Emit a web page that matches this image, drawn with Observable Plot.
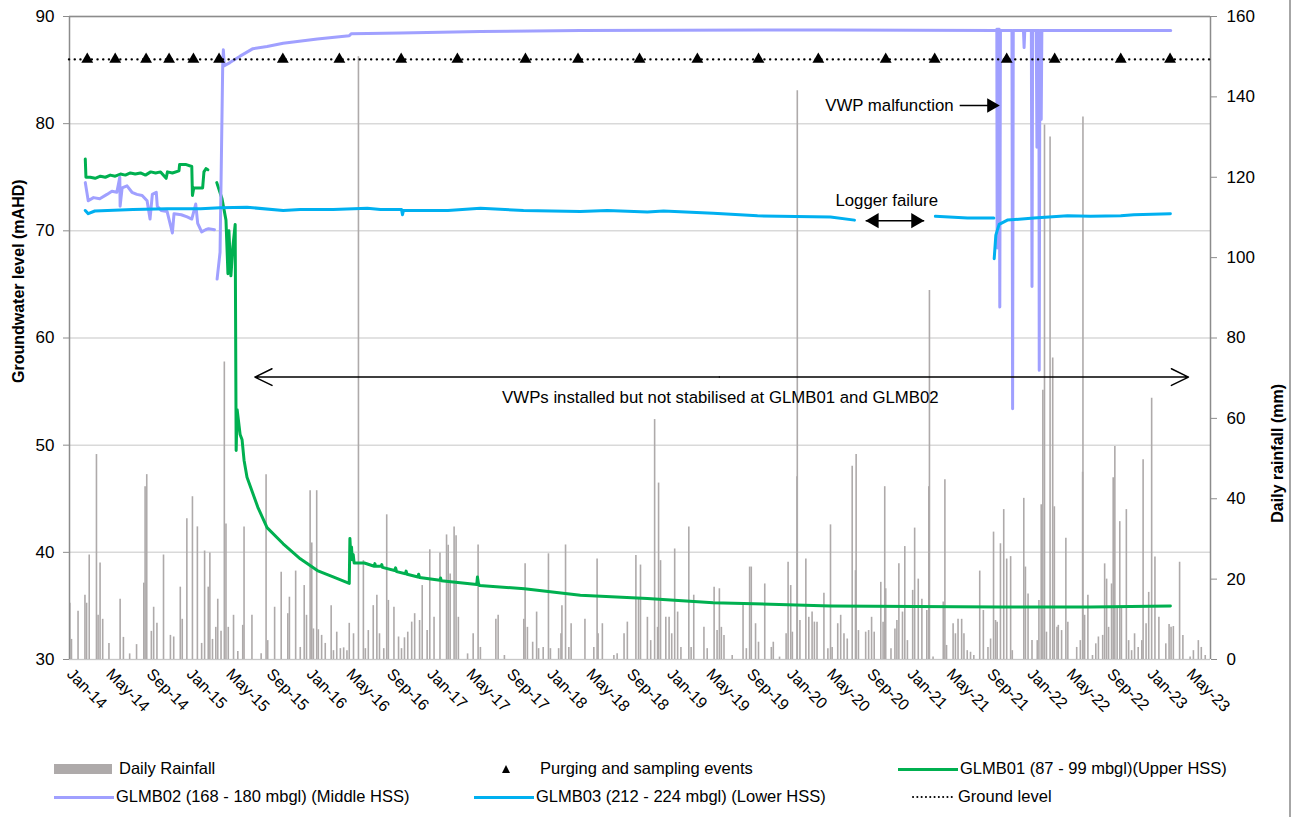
<!DOCTYPE html>
<html><head><meta charset="utf-8">
<script src="https://cdn.jsdelivr.net/npm/d3@7"></script>
<script src="https://cdn.jsdelivr.net/npm/@observablehq/plot@0.6"></script>
<style>
body{margin:0;background:#fff;font-family:'Liberation Sans',Arial,sans-serif;}
#wrap{position:relative;width:1296px;height:817px;overflow:hidden;background:#fff;}
.lg{position:absolute;font-size:16.5px;line-height:20px;white-space:nowrap;color:#000;}
.sw{position:absolute;}
#border{position:absolute;left:1289px;top:0;width:2px;height:817px;background:#a6a6a6;}
</style></head><body>
<div id="wrap">
<div id="chart"></div>
<div id="legend"></div>
<div id="border"></div>
</div>
<script>
// ---------------- data ----------------
const xStart = "2014-01-01", xEnd = "2023-07-04";
const leftTicks = [30, 40, 50, 60, 70, 80, 90];
const rainTicks = [0, 20, 40, 60, 80, 100, 120, 140, 160];
const groundLevel = 86;

const samplingDates = ["2014-02-24","2014-05-20","2014-08-22","2014-10-31","2015-01-13","2015-04-01","2015-10-12","2016-04-01","2016-10-06","2017-03-26","2017-10-19","2018-03-28","2018-10-01","2019-03-26","2019-09-28","2020-03-28","2020-10-19","2021-03-17","2021-10-22","2022-03-17","2022-10-04","2023-03-03"];

const rainfall = [
["2014-01-02",14],["2014-01-07",5],["2014-01-27",12],["2014-02-17",16],["2014-02-22",14],["2014-03-02",26],["2014-03-24",51],["2014-03-29",11],["2014-04-04",24],["2014-04-12",10],["2014-05-01",4],["2014-06-04",15],["2014-06-14",5.5],["2014-07-03",1.4],["2014-07-24",3.7],["2014-08-15",19],["2014-08-19",43],["2014-08-24",46],["2014-09-07",7],["2014-09-14",13],["2014-09-24",9],["2014-10-14",26],["2014-11-04",6],["2014-11-14",5.6],["2014-12-04",18],["2014-12-10",10],["2014-12-24",35],
["2015-01-10",40.5],["2015-01-25",33],["2015-02-07",4],["2015-02-16",27],["2015-02-27",18],["2015-03-04",26.5],["2015-03-12",5],["2015-03-22",8],["2015-03-28",15],["2015-04-07",7],["2015-04-17",74],["2015-04-22",33.7],["2015-04-29",8],["2015-05-15",11],["2015-05-28",2],["2015-06-12",8.5],["2015-06-16",33],["2015-07-10",11],["2015-08-07",1.4],["2015-08-22",46],["2015-08-27",4.7],["2015-09-17",13],["2015-10-07",21.7],["2015-10-27",11.4],["2015-11-01",15.5],["2015-11-20",22],["2015-12-04",3],["2015-12-16",18.4],["2015-12-23",11],
["2016-01-03",42],["2016-01-08",29],["2016-01-13",7.6],["2016-01-23",42],["2016-01-28",7.4],["2016-02-07",6],["2016-02-18",4],["2016-03-07",13.4],["2016-03-14",2.2],["2016-03-24",6.8],["2016-04-04",2.7],["2016-04-14",2.9],["2016-04-24",2.2],["2016-05-01",9],["2016-05-14",6.4],["2016-05-29",150],["2016-06-13",24.6],["2016-06-19",2.7],["2016-06-28",7.2],["2016-07-13",13.4],["2016-07-24",16],["2016-08-01",6.4],["2016-08-14",2.7],["2016-08-23",36],["2016-08-28",14.7],["2016-09-14",13],["2016-09-28",5.6],["2016-10-07",2.7],["2016-10-16",5.4],["2016-10-26",6.8],["2016-11-07",9.3],["2016-11-16",11.4],["2016-12-01",9.7],["2016-12-09",18.4],["2016-12-24",7.2],
["2017-01-01",27.3],["2017-01-14",10.5],["2017-02-01",26.5],["2017-02-21",31],["2017-02-26",28.4],["2017-03-04",21.3],["2017-03-16",33],["2017-03-22",30.8],["2017-03-29",10.5],["2017-04-26",1.4],["2017-05-13",6.4],["2017-05-28",28.5],["2017-06-04",3],["2017-07-21",10],["2017-07-28",11],["2017-08-16",1],["2017-10-14",10],["2017-10-18",23.8],["2017-10-25",8],["2017-11-10",4.3],["2017-11-22",11.8],["2017-11-28",2.7],["2017-12-12",3],["2017-12-28",26.3],
["2018-01-03",2.7],["2018-01-28",2.7],["2018-02-04",6.4],["2018-02-07",13.4],["2018-02-18",28.5],["2018-02-28",3],["2018-03-07",8.9],["2018-04-18",10],["2018-05-15",3],["2018-05-25",25],["2018-05-28",6.4],["2018-06-10",8.9],["2018-07-15",1],["2018-07-25",1.4],["2018-08-15",6.4],["2018-08-25",9.3],["2018-09-20",25.9],["2018-09-28",15],["2018-10-04",23.5],["2018-10-25",10.5],["2018-11-04",4.7],["2018-11-16",59.7],["2018-11-25",8],["2018-11-28",43.9],["2018-12-04",24.6],["2018-12-20",10.5],["2018-12-30",10.5],
["2019-01-07",6.4],["2019-01-16",27.5],["2019-01-25",11.8],["2019-02-04",3],["2019-02-28",33],["2019-03-07",3],["2019-03-15",16],["2019-04-15",8],["2019-04-25",2.7],["2019-05-16",18],["2019-05-25",7.2],["2019-06-01",17.6],["2019-06-07",8],["2019-06-15",6],["2019-07-10",1],["2019-08-12",13.8],["2019-08-22",2.7],["2019-09-01",23],["2019-09-06",23],["2019-09-19",8.9],["2019-09-28",4.3],["2019-10-17",18.8],["2019-11-06",3],["2019-11-12",4.3],["2019-12-01",0.6],["2019-12-21",6.4],["2019-12-27",24.2],
["2020-01-04",18.4],["2020-01-09",6.8],["2020-01-23",45.5],["2020-01-24",141.5],["2020-02-01",9.7],["2020-02-19",25],["2020-02-28",10.5],["2020-03-09",11.8],["2020-03-16",9.3],["2020-03-24",9.3],["2020-04-14",16.5],["2020-04-26",2.7],["2020-05-04",33.5],["2020-05-09",3],["2020-05-26",8.9],["2020-06-04",11],["2020-06-14",6.4],["2020-06-24",5.1],["2020-07-09",48.1],["2020-07-19",22.1],["2020-07-21",51],["2020-07-28",7.2],["2020-08-19",6.8],["2020-08-28",7.2],["2020-09-06",10.5],["2020-09-14",6.8],["2020-10-04",19.2],["2020-10-11",9.3],["2020-10-16",43],["2020-10-19",17.6],["2020-11-04",2.7],["2020-11-16",7.6],["2020-11-22",9.7],["2020-11-28",23.8],["2020-12-09",11.8],["2020-12-16",28.1],["2020-12-24",4.7],
["2021-01-09",17.2],["2021-01-15",32.7],["2021-01-26",20],["2021-02-06",15],["2021-02-21",12.2],["2021-02-27",43],["2021-02-28",34.3],["2021-03-01",91.8],["2021-03-12",0.6],["2021-04-12",14.3],["2021-04-17",44.7],["2021-04-22",3.5],["2021-05-12",8.9],["2021-05-19",6.4],["2021-05-27",10],["2021-06-07",10],["2021-06-14",6.4],["2021-06-24",2.2],["2021-07-04",1.8],["2021-07-14",1],["2021-08-01",22],["2021-08-12",12.2],["2021-08-26",3],["2021-09-03",5.1],["2021-09-12",31.7],["2021-09-18",9.7],["2021-09-23",9.3],["2021-10-03",28.8],["2021-10-13",37.3],["2021-10-22",25],["2021-11-03",25.6],["2021-11-08",2.2],["2021-12-13",40.1],["2021-12-18",23],["2021-12-26",16.3],
["2022-01-07",4.7],["2022-01-23",4.7],["2022-01-28",14.7],["2022-02-04",38.5],["2022-02-09",67],["2022-02-14",133],["2022-02-20",6.8],["2022-03-03",130],["2022-03-11",75],["2022-03-16",38],["2022-03-24",8],["2022-03-28",8.5],["2022-04-07",7.2],["2022-04-20",30.2],["2022-04-26",9.3],["2022-05-23",3],["2022-06-03",4.7],["2022-06-10",46.6],["2022-06-11",135],["2022-06-16",11],["2022-06-26",16],["2022-07-10",1],["2022-07-20",3.9],["2022-07-28",5.6],["2022-08-10",6],["2022-08-16",23.8],["2022-08-22",20],["2022-08-28",8],["2022-09-06",18.8],["2022-09-11",45.2],["2022-09-16",53],["2022-09-23",13],["2022-10-01",34.3],["2022-10-06",13],["2022-10-21",37.3],["2022-10-28",4.7],["2022-11-06",2.2],["2022-11-15",6.4],["2022-11-26",3],["2022-12-07",4.7],["2022-12-11",49.7],["2022-12-20",8.9],["2022-12-28",16.7],
["2023-01-06",65],["2023-01-16",25.5],["2023-01-28",10.5],["2023-02-18",3.9],["2023-02-28",8.7],["2023-03-06",8],["2023-03-13",8.2],["2023-04-01",24.2],["2023-04-11",6],["2023-05-03",0.6],["2023-05-13",2.2],["2023-05-28",4.7],["2023-06-06",3],["2023-06-18",1]
];

// GLMB01 (Upper HSS) groundwater level, mAHD
const glmb01_a = [["2014-02-18",76.7],["2014-02-20",75.0],["2014-03-05",75.0],["2014-03-20",74.9],["2014-04-05",75.1],["2014-04-20",75.0],["2014-05-05",75.2],["2014-05-20",75.1],["2014-06-05",75.3],["2014-06-20",75.2],["2014-07-05",75.4],["2014-07-20",75.3],["2014-08-05",75.4],["2014-08-20",75.2],["2014-09-05",75.5],["2014-09-20",75.4],["2014-10-05",75.5],["2014-10-22",74.9],["2014-10-26",75.5],["2014-11-10",75.4],["2014-11-30",75.6],["2014-12-02",76.2],["2014-12-20",76.2],["2015-01-08",76.0],["2015-01-10",73.3],["2015-01-14",74.0],["2015-01-30",74.0],["2015-02-10",74.0],["2015-02-14",75.5],["2015-02-20",75.8],["2015-02-26",75.7]];
const glmb01_b = [["2015-03-25",74.5],["2015-04-10",73.0],["2015-04-22",71.0],["2015-04-28",66.0],["2015-05-01",70.0],["2015-05-07",65.8],["2015-05-13",68.5],["2015-05-20",70.6],["2015-05-23",49.5],["2015-05-26",53.3],["2015-06-04",51.0],["2015-06-10",50.5],["2015-06-16",48.6],["2015-06-25",47.0],["2015-07-28",44.2],["2015-08-25",42.3],["2015-10-13",40.8],["2015-12-04",39.4],["2016-01-25",38.3],["2016-03-13",37.7],["2016-05-01",37.1],["2016-05-03",41.3],["2016-05-06",39.5],["2016-05-08",40.5],["2016-05-10",39.3],["2016-05-13",39.8],["2016-05-16",39.0],["2016-06-16",39.0],["2016-07-16",38.7],["2016-07-18",38.95],["2016-07-20",38.7],["2016-08-06",38.7],["2016-08-08",38.85],["2016-08-10",38.6],["2016-09-16",38.3],["2016-09-19",38.55],["2016-09-22",38.2],["2016-10-19",38.0],["2016-10-21",38.25],["2016-10-24",37.95],["2016-11-26",37.7],["2016-11-28",37.95],["2016-12-01",37.65],["2017-02-01",37.4],["2017-02-03",37.6],["2017-02-05",37.35],["2017-05-24",37.0],["2017-05-26",37.7],["2017-05-29",37.1],["2017-06-01",36.9],["2017-10-16",36.6],["2018-04-04",36.0],["2018-10-25",35.7],["2019-05-13",35.3],["2020-05-04",35.0],["2021-10-04",34.9],["2022-07-04",34.9],["2023-03-04",35.0]];

// GLMB02 (Middle HSS)
const glmb02_a = [["2014-02-18",74.5],["2014-02-27",72.8],["2014-03-15",73.1],["2014-04-03",73.0],["2014-04-25",73.4],["2014-05-10",73.7],["2014-05-25",73.6],["2014-06-03",75.0],["2014-06-04",72.3],["2014-06-10",74.0],["2014-06-25",74.2],["2014-07-10",73.6],["2014-07-25",73.4],["2014-08-10",73.3],["2014-08-25",72.8],["2014-09-03",71.1],["2014-09-10",73.4],["2014-09-22",73.6],["2014-09-25",72.3],["2014-10-07",71.9],["2014-10-25",71.8],["2014-11-10",69.8],["2014-11-15",71.6],["2014-12-07",71.5],["2014-12-25",71.3],["2015-01-08",71.1],["2015-01-20",72.5],["2015-01-26",70.7],["2015-02-07",69.9],["2015-02-19",70.1],["2015-02-28",70.2],["2015-03-18",70.1]];
const glmb02_b = [["2015-03-26",65.5],["2015-04-04",68.0],["2015-04-12",85.3],["2015-04-14",86.9],["2015-04-17",85.4],["2015-05-04",85.7],["2015-06-04",86.3],["2015-07-13",87.0],["2015-08-25",87.2],["2015-10-13",87.5],["2016-01-25",87.9],["2016-05-01",88.2],["2016-05-07",88.4],["2016-10-04",88.45],["2017-06-04",88.6],["2018-04-04",88.7],["2020-05-04",88.75],["2021-09-20",88.7],["2021-09-22",88.8],["2021-09-23",68.4],["2021-09-25",88.8],["2021-09-29",88.8],["2021-10-01",62.9],["2021-10-03",88.7],["2021-11-07",88.7],["2021-11-09",53.4],["2021-11-11",88.7],["2021-12-12",88.7],["2021-12-14",87.1],["2021-12-16",88.7],["2022-01-05",88.7],["2022-01-07",64.8],["2022-01-09",88.7],["2022-01-20",88.7],["2022-01-22",77.8],["2022-01-24",88.7],["2022-01-28",88.7],["2022-01-29",57.0],["2022-01-31",88.7],["2022-02-03",88.7],["2022-02-04",80.4],["2022-02-06",88.7],["2023-03-05",88.7]];

// GLMB03 (Lower HSS)
const glmb03_a = [["2014-02-18",71.9],["2014-02-27",71.6],["2014-03-19",71.85],["2014-07-13",72.0],["2014-10-25",72.05],["2015-02-04",72.05],["2015-04-04",72.15],["2015-06-25",72.2],["2015-10-13",71.9],["2015-12-04",72.0],["2016-03-13",72.0],["2016-06-25",72.1],["2016-08-04",72.0],["2016-10-07",72.0],["2016-10-10",71.5],["2016-10-13",71.9],["2017-02-25",71.9],["2017-06-04",72.1],["2017-10-13",71.9],["2018-04-04",71.8],["2018-06-25",71.9],["2018-10-25",71.75],["2018-12-13",71.85],["2019-05-13",71.65],["2019-09-25",71.4],["2020-05-04",71.3],["2020-07-16",71.0]];
const glmb03_b = [["2021-03-19",71.35],["2021-06-25",71.2],["2021-09-13",71.2]];
const glmb03_c = [["2021-09-14",67.4],["2021-09-19",69.6],["2021-09-29",70.6],["2021-10-24",71.0],["2022-01-13",71.2],["2022-04-25",71.4],["2022-07-04",71.35],["2022-10-04",71.4],["2022-11-13",71.5],["2023-03-04",71.6]];

// annotation texts
const noteMain = "VWPs installed but not stabilised at GLMB01 and GLMB02";
const noteLogger = "Logger failure";
const noteVWP = "VWP malfunction";

// legend labels
const legendLabels = ["Daily Rainfall","Purging and sampling events","GLMB01 (87 - 99 mbgl)(Upper HSS)","GLMB02 (168 - 180 mbgl) (Middle HSS)","GLMB03 (212 - 224 mbgl) (Lower HSS)","Ground level"];

// ---------------- build ----------------
const C = {green:"#00B050", purple:"#A0A0FF", blue:"#00B0F0", rain:"#AEAAAA", axis:"#8C8C8C", grid:"#D9D9D9"};
const D = s => new Date(s);
const mm2y = mm => 30 + mm * 60 / 160;
const toRows = (seg, arr) => arr.map(([d, v]) => ({seg, date: D(d), value: v}));
const g01 = [...toRows("a", glmb01_a), ...toRows("b", glmb01_b)];
const g02 = [...toRows("a", glmb02_a), ...toRows("b", glmb02_b)];
const g03 = [...toRows("a", glmb03_a), ...toRows("b", glmb03_b), ...toRows("c", glmb03_c)];
const rainRows = rainfall.map(([d, v]) => ({date: D(d), mm: v}));
const xTicks = d3.utcMonth.every(4).range(D(xStart), D("2023-05-02"));
const font = "'Liberation Sans', Arial, sans-serif";

const mainY = 56.35, loggerY = 70.95, vwpY = 81.7;

const chart = Plot.plot({
  width: 1296, height: 745,
  marginLeft: 69, marginRight: 86, marginTop: 16, marginBottom: 86,
  style: {fontFamily: font, fontSize: "17px", color: "#000", background: "transparent"},
  x: {type: "utc", domain: [D(xStart), D(xEnd)]},
  y: {domain: [30, 90]},
  marks: [
    Plot.gridY(leftTicks, {stroke: C.grid, strokeOpacity: 1, strokeWidth: 1.5}),
    Plot.ruleX(rainRows, {x: "date", y1: 30, y2: d => mm2y(d.mm), stroke: C.rain, strokeWidth: 1.6}),
    Plot.ruleY([90], {stroke: C.axis, strokeWidth: 1.5}),
    Plot.ruleY([30], {stroke: "#C8C8C8", strokeWidth: 1.2}),
    Plot.ruleX([D(xStart)], {stroke: C.axis, strokeWidth: 1.5}),
    Plot.ruleX([D(xEnd)], {stroke: C.axis, strokeWidth: 1.5}),
    Plot.line(g01, {x: "date", y: "value", z: "seg", stroke: C.green, strokeWidth: 3, curve: "linear"}),
    Plot.line(g02, {x: "date", y: "value", z: "seg", stroke: C.purple, strokeWidth: 3, curve: "linear"}),
    Plot.line(g03, {x: "date", y: "value", z: "seg", stroke: C.blue, strokeWidth: 3, curve: "linear"}),
    Plot.ruleY([groundLevel], {stroke: "#000", strokeWidth: 2.4, strokeDasharray: "0.1,5.6", strokeLinecap: "round"}),
    Plot.dot(samplingDates, {x: d => D(d), y: groundLevel, symbol: "triangle", r: 4.4, fill: "#000", stroke: "none"}),
    // main double-headed arrow
    Plot.arrow([{x1: D("2019-06-01"), x2: D("2015-07-19")}, {x1: D("2019-06-01"), x2: D("2023-04-28")}],
      {x1: "x1", x2: "x2", y1: mainY, y2: mainY, stroke: "#000", strokeWidth: 1.5, headLength: 19, headAngle: 52}),
    Plot.text([noteMain], {x: D("2019-06-04"), y: 54.4, text: d => d, fontSize: 16.8, fill: "#000"}),
    // logger failure
    Plot.link([0], {x1: D("2020-08-19"), x2: D("2021-02-13"), y1: loggerY, y2: loggerY, stroke: "#000", strokeWidth: 1.5}),
    Plot.dot([0], {x: D("2020-08-19"), y: loggerY, symbol: "triangle", r: 5.6, rotate: -90, dx: 8.6, fill: "#000", stroke: "none"}),
    Plot.dot([0], {x: D("2021-02-13"), y: loggerY, symbol: "triangle", r: 5.6, rotate: 90, dx: -8.6, fill: "#000", stroke: "none"}),
    Plot.text([noteLogger], {x: D("2020-10-22"), y: 72.8, text: d => d, fontSize: 16.8, fill: "#000"}),
    // VWP malfunction
    Plot.text([noteVWP], {x: D("2020-04-18"), y: vwpY, text: d => d, textAnchor: "start", fontSize: 16.8, fill: "#000"}),
    Plot.link([0], {x1: D("2021-06-01"), x2: D("2021-09-20"), y1: vwpY, y2: vwpY, stroke: "#000", strokeWidth: 1.5}),
    Plot.dot([0], {x: D("2021-10-01"), y: vwpY, symbol: "triangle", r: 5.4, rotate: 90, dx: -8.4, fill: "#000", stroke: "none"}),
    // axes
    Plot.axisY(leftTicks, {anchor: "left", tickSize: 6, tickPadding: 9, stroke: C.axis, label: null, fontSize: 17}),
    Plot.axisY(rainTicks.map(mm2y), {anchor: "right", tickSize: 6, tickPadding: 10, stroke: C.axis, label: null, fontSize: 17,
      tickFormat: v => String(Math.round((v - 30) * 160 / 60))}),
    Plot.axisX(xTicks, {anchor: "bottom", tickSize: 0, tickPadding: 12, tickRotate: 45, label: null, fontSize: 16,
      tickFormat: d3.utcFormat("%b-%y")}),
    Plot.text(["Groundwater level (mAHD)"], {frameAnchor: "left", dx: -51, dy: 45, rotate: -90, text: d => d, fontWeight: "bold", fontSize: 16, fill: "#000"}),
    Plot.text(["Daily rainfall (mm)"], {frameAnchor: "right", dx: 67, dy: 46, rotate: -90, text: d => d, fontWeight: "bold", fontSize: 16, fill: "#000"})
  ]
});
document.getElementById("chart").appendChild(chart);

// ---------------- legend ----------------
const lg = document.getElementById("legend");
function add(html){ lg.insertAdjacentHTML("beforeend", html); }
const r1 = 769, r2 = 797;
add(`<div class="sw" style="left:54px;top:${r1-5}px;width:58px;height:10px;background:${C.rain}"></div>`);
add(`<div class="lg" style="left:119px;top:${r1-11}px">${legendLabels[0]}</div>`);
add(`<svg class="sw" style="left:500px;top:${r1-6}px" width="12" height="12"><path d="M6,2 L10,10 L2,10 Z" fill="#000"/></svg>`);
add(`<div class="lg" style="left:540px;top:${r1-11}px">${legendLabels[1]}</div>`);
add(`<div class="sw" style="left:898px;top:${r1-1.5}px;width:60px;height:3px;background:${C.green}"></div>`);
add(`<div class="lg" style="left:960px;top:${r1-11}px">${legendLabels[2]}</div>`);
add(`<div class="sw" style="left:54px;top:${r2-1.5}px;width:60px;height:3px;background:${C.purple}"></div>`);
add(`<div class="lg" style="left:116px;top:${r2-11}px">${legendLabels[3]}</div>`);
add(`<div class="sw" style="left:474px;top:${r2-1.5}px;width:60px;height:3px;background:${C.blue}"></div>`);
add(`<div class="lg" style="left:536px;top:${r2-11}px">${legendLabels[4]}</div>`);
add(`<svg class="sw" style="left:912px;top:${r2-2}px" width="42" height="4"><line x1="1" y1="2" x2="41" y2="2" stroke="#000" stroke-width="2" stroke-dasharray="0.1,4.2" stroke-linecap="round"/></svg>`);
add(`<div class="lg" style="left:958px;top:${r2-11}px">${legendLabels[5]}</div>`);
</script>
</body></html>
